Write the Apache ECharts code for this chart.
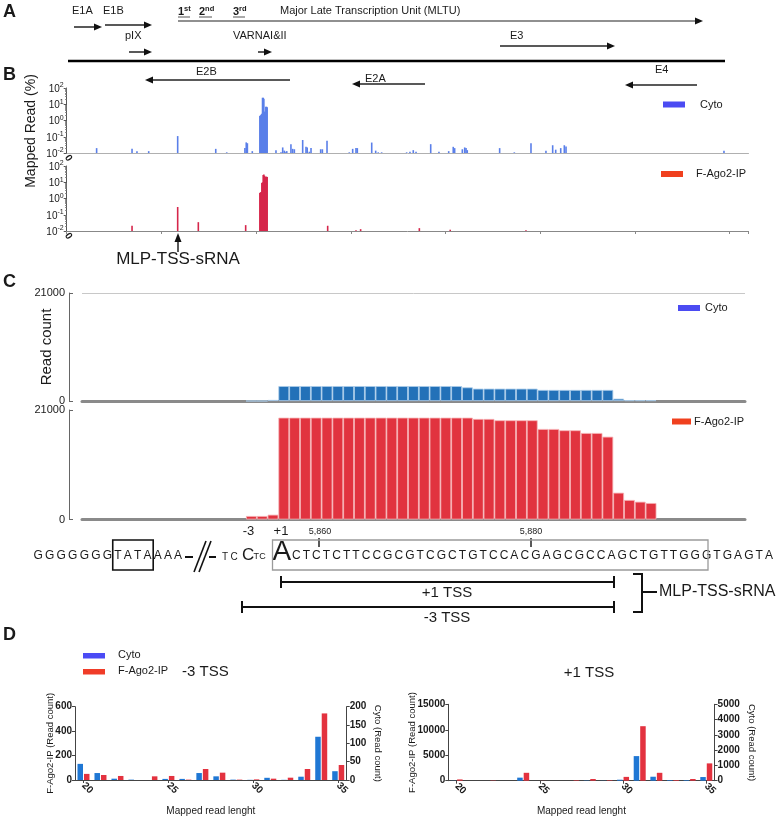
<!DOCTYPE html>
<html><head><meta charset="utf-8">
<script src="https://cdn.jsdelivr.net/npm/echarts@6/dist/echarts.min.js"></script>
<style>html,body{margin:0;padding:0;background:#fff}#c{width:784px;height:816px}</style>
</head><body><div id="c"></div><script>
// ---------- Panel B : genome-wide mapped reads (% , log scale) ----------
const cytoPos = [1580,3450,3710,4330,5860,7870,8450,9410,9480,9540,9800,
  10200,10235,10270,10305,10340,10375,10410,10445,10480,10515,10550,10585,
  11050,11315,11405,11490,11580,11620,11840,11930,12020,12460,12635,12700,12810,12900,
  13410,13500,13745,14920,15100,15275,15345,16105,16315,16450,16630,17950,18125,18300,18445,
  19220,19655,20170,20410,20485,20890,21015,21085,21150,22860,23635,24515,25305,25660,25820,
  26085,26275,26365,34705];
const cytoPct = [0.02,0.018,0.013,0.013,0.11,0.018,0.011,0.02,0.045,0.04,0.013,
  1.9,2.1,2.3,2.6,25,25,22,3.5,3.5,7,7,6.5,
  0.015,0.011,0.022,0.014,0.012,0.013,0.035,0.018,0.017,0.063,0.024,0.022,0.012,0.02,
  0.017,0.017,0.057,0.011,0.018,0.02,0.02,0.044,0.014,0.011,0.011,0.011,0.012,0.015,0.012,
  0.035,0.012,0.013,0.024,0.02,0.017,0.022,0.02,0.015,0.02,0.011,0.04,0.014,0.03,0.016,
  0.02,0.03,0.025,0.014];
const agoPos = [3450,5860,6950,9450,10200,10235,10270,10305,10340,10375,10410,10445,10480,10515,10550,10585,
  13780,15275,15520,18620,20250,24250];
const agoPct = [0.021,0.3,0.035,0.023,2.2,2.4,2.5,9,10,28,30,25,20,22,22,21,
  0.021,0.011,0.013,0.015,0.012,0.011];
const genomeTicks = [0,5000,10000,15000,20000,25000,30000,35000];

// ---------- Panel C : read count per nucleotide around MLP TSS ----------
const ntLabels = ['-3','-2','-1','+1','+2','+3','+4','+5','+6','+7','+8','+9','+10','+11','+12','+13','+14','+15','+16','+17',
  '+18','+19','+20','+21','+22','+23','+24','+25','+26','+27','+28','+29','+30','+31','+32','+33','+34','+35'];
const cytoCount = [0,0,200,2900,2900,2900,2900,2900,2900,2900,2900,2900,2900,2900,2900,2900,2900,2900,2900,2900,
  2650,2400,2400,2400,2400,2400,2400,2150,2150,2150,2150,2150,2150,2150,450,150,150,150];
const agoCount = [670,670,920,19530,19530,19530,19530,19530,19530,19530,19530,19530,19530,19530,19530,19530,19530,19530,19530,19530,
  19530,19280,19280,19030,19030,19030,19030,17360,17360,17110,17110,16590,16590,15880,5140,3740,3410,3160];

// ---------- Panel D : read length distribution ----------
const readLengths = ['20','21','22','23','24','25','26','27','28','29','30','31','32','33','34','35'];
const m3Cyto = [44,19,3.6,1,0,3,3,19,10,1,0.5,6,0.5,9,118,24];
const m3Ago  = [50,41,33,0,30,33,3,90,60,3,5,11,19,90,545,123];
const p1Cyto = [10,0,0,0,200,0,0,0,20,10,65,1610,260,40,40,240];
const p1Ago  = [250,0,60,0,1550,20,0,100,330,100,750,10700,1550,130,330,3400];

// ---------- helpers ----------
const F = '"Liberation Sans", Arial, sans-serif';
const TXT = '#1a1a1a';
const els = [];
function T(text, x, y, o) {
  o = o || {};
  const st = Object.assign({text: text, fontSize: 11, fontFamily: F, fill: TXT, align: 'left', verticalAlign: 'middle'}, o.style || {});
  st.textAlign = st.align; st.textVerticalAlign = st.verticalAlign;
  els.push({type: 'text', x: x, y: y, rotation: o.rot || 0, silent: true, z: 100, style: st});
}
function L(x1, y1, x2, y2, w, c) {
  els.push({type: 'line', silent: true, z: 100, shape: {x1: x1, y1: y1, x2: x2, y2: y2}, style: {stroke: c || '#222', lineWidth: w || 1.5}});
}
function R(x, y, w, h, fill, stroke, lw) {
  els.push({type: 'rect', silent: true, z: 100, shape: {x: x, y: y, width: w, height: h},
    style: {fill: fill || 'none', stroke: stroke || 'none', lineWidth: lw || 1}});
}
function arrow(x1, x2, y, w, hl, hh) {
  w = w || 1.5; hl = hl || 8; hh = hh || 3.5;
  const d = x2 > x1 ? 1 : -1;
  L(x1, y, x2 - d * hl * 0.7, y, w, '#222');
  els.push({type: 'polygon', silent: true, z: 100, shape: {points: [[x2, y], [x2 - d * hl, y - hh], [x2 - d * hl, y + hh]]}, style: {fill: '#111'}});
}
const ctx = document.createElement('canvas').getContext('2d');
function seq(str, x, y, size, spacing) {
  ctx.font = size + 'px "Liberation Sans"';
  const pos = [];
  for (const ch of str) {
    pos.push(x);
    T(ch, x, y, {style: {fontSize: size}});
    x += ctx.measureText(ch).width + spacing;
  }
  pos.push(x);
  return pos;
}
const supRich = {
  n: {fontSize: 11, fontWeight: 'bold', fontFamily: F, fill: TXT, color: TXT, verticalAlign: 'bottom'},
  s: {fontSize: 7.5, fontWeight: 'bold', fontFamily: F, fill: TXT, color: TXT, verticalAlign: 'bottom', padding: [0, 0, 5, 0]}
};

// ---------- Panel A ----------
const bold = {fontWeight: 'bold', fontSize: 18};
T('A', 3, 12, {style: bold});
T('E1A', 72, 11); T('E1B', 103, 11);
T('{n|1}{s|st}', 178, 11, {style: {rich: supRich}});
T('{n|2}{s|nd}', 199, 11, {style: {rich: supRich}});
T('{n|3}{s|rd}', 233, 11, {style: {rich: supRich}});
L(178, 17, 190, 17, 1, '#555'); L(199, 17, 212, 17, 1, '#555'); L(233, 17, 245, 17, 1, '#555');
T('Major Late Transcription Unit (MLTU)', 280, 11);
arrow(74, 102, 27); arrow(105, 152, 25);
arrow(178, 703, 21, 1.2);
T('pIX', 125, 36); arrow(129, 152, 52);
T('VARNAI&II', 233, 36); arrow(258, 272, 52);
T('E3', 510, 36); arrow(500, 615, 46);
L(68, 61, 725, 61, 2.6, '#000');
T('B', 3, 75, {style: bold});
T('E2B', 196, 72); arrow(290, 145, 80);
T('E2A', 365, 79); arrow(425, 352, 84);
T('E4', 655, 70); arrow(697, 625, 85);

// Panel B extras
T('Mapped Read (%)', 31, 131, {rot: Math.PI / 2, style: {fontSize: 14, align: 'center'}});
R(663, 101.5, 22, 6, '#4B4BF2'); T('Cyto', 700, 104.5);
R(661, 171, 22, 6, '#F0401E'); T('F-Ago2-IP', 696, 174);
L(178, 252, 178, 240, 1.5, '#222');
els.push({type: 'polygon', silent: true, z: 100, shape: {points: [[178, 233], [174.5, 242], [181.5, 242]]}, style: {fill: '#111'}});
T('MLP-TSS-sRNA', 178, 259, {style: {fontSize: 17, align: 'center'}});

// ---------- Panel C extras ----------
T('C', 3, 282, {style: bold});
R(678, 305, 22, 6, '#4B4BF2'); T('Cyto', 705, 308);
R(672, 418.5, 19, 6, '#F0401E'); T('F-Ago2-IP', 694, 421.5);
T('-3', 248.5, 531, {style: {fontSize: 13, align: 'center'}});
T('+1', 281, 531, {style: {fontSize: 13, align: 'center'}});
T('5,860', 320, 532, {style: {fontSize: 9, align: 'center'}});
T('5,880', 531, 532, {style: {fontSize: 9, align: 'center'}});
L(319, 538, 319, 547, 1.5, '#222'); L(531, 538, 531, 547, 1.5, '#222');
const sy = 556;
const gp = seq('GGGGGGGTATAAAA', 33.5, sy, 12, 2.2);
R(gp[7] - 1.5, 540, gp[11] - gp[7] + 1, 30, 'none', '#111', 1.6);
L(185, sy + 1, 193, sy + 1, 2, '#111');
L(194, 572, 206, 541, 1.6, '#111'); L(199, 572, 211, 541, 1.6, '#111');
L(209, sy + 1, 216, sy + 1, 2, '#111');
seq('TC', 222, sy + 1, 10, 2.5);
T('C', 242, sy - 1, {style: {fontSize: 17}});
seq('TC', 253.5, sy + 1, 9, 0.3);
T('A', 272.5, sy - 4, {style: {fontSize: 28}});
seq('CTCTCTTCCGCGTCGCTGTCCACGAGCGCCAGCTGTTGGGTGAGTA', 292, sy, 12, 2.05);
R(272.5, 540, 435.5, 30, 'none', '#9a9a9a', 1.3);
// TSS brackets
L(281, 582, 614, 582, 2, '#111'); L(281, 576, 281, 588, 2, '#111'); L(614, 576, 614, 588, 2, '#111');
T('+1 TSS', 447, 593, {style: {fontSize: 15, align: 'center'}});
L(242, 607, 614, 607, 2, '#111'); L(242, 601, 242, 613, 2, '#111'); L(614, 601, 614, 613, 2, '#111');
T('-3 TSS', 447, 618, {style: {fontSize: 15, align: 'center'}});
L(642, 574, 642, 612, 2, '#111'); L(633, 574, 643, 574, 2, '#111'); L(633, 612, 643, 612, 2, '#111');
L(642, 592, 657, 592, 2, '#111');
T('MLP-TSS-sRNA', 659, 592, {style: {fontSize: 16}});

// ---------- Panel D extras ----------
T('D', 3, 635, {style: bold});
R(83, 653, 22, 5.5, '#4B4BF5'); T('Cyto', 118, 655);
R(83, 669, 22, 5.5, '#F03C28'); T('F-Ago2-IP', 118, 671);
T('-3 TSS', 182, 672, {style: {fontSize: 15}});
T('+1 TSS', 589, 673, {style: {fontSize: 15, align: 'center'}});

// ---------- chart ----------
const chart = echarts.init(document.getElementById('c'), null, {renderer: 'canvas'});
function spikes(ai, pos, vals, color) {
  return {type: 'custom', xAxisIndex: ai, yAxisIndex: ai, silent: true,
    data: pos.map((p, i) => [p, vals[i]]),
    renderItem: function (params, api) {
      const top = api.coord([api.value(0), api.value(1)]);
      const base = api.coord([api.value(0), 0.01]);
      return {type: 'rect', shape: {x: top[0] - 0.8, y: top[1], width: 1.6, height: base[1] - top[1]}, style: {fill: color}};
    }};
}
function logY(gi) {
  return {gridIndex: gi, type: 'log', logBase: 10, min: 0.01, max: 100,
    axisLine: {show: true, onZero: false, lineStyle: {color: '#555', width: 1}},
    axisTick: {show: true, length: 3, lineStyle: {color: '#555'}},
    minorTick: {show: true, splitNumber: 9, length: 1.5, lineStyle: {color: '#777'}},
    splitLine: {show: false}, minorSplitLine: {show: false},
    axisLabel: {margin: 3, formatter: v => '{b|10}{s|' + Math.round(Math.log10(v)) + '}',
      rich: {b: {fontSize: 10, fontFamily: F, color: TXT, verticalAlign: 'bottom'},
             s: {fontSize: 7, fontFamily: F, color: TXT, verticalAlign: 'bottom', padding: [0, 0, 5, 0]}}}};
}
function genomeX(gi, ticks) {
  return {gridIndex: gi, type: 'value', min: 0, max: 36000, interval: 5000,
    axisLine: {show: true, onZero: false, lineStyle: {color: ticks ? '#888' : '#b0b0b0', width: 1}},
    axisTick: {show: ticks, length: 3, lineStyle: {color: '#888'}},
    splitLine: {show: false},
    axisLabel: {formatter: v => genomeTicks.indexOf(v) === 0 ? '0' : '', rotate: -55, fontSize: 10, fontWeight: 'bold', color: TXT, margin: 3}};
}
function posX(gi) {
  return {gridIndex: gi, type: 'value', min: -15.685, max: 45.7,
    axisLine: {show: true, onZero: false, lineStyle: {color: '#8a8a8a', width: 3}},
    axisTick: {show: false}, axisLabel: {show: false}, splitLine: {show: false}};
}
function countY(gi, split, name) {
  return {gridIndex: gi, type: 'value', min: 0, max: 21000, interval: 21000, offset: 13,
    axisLine: {show: true, onZero: false, lineStyle: {color: '#666', width: 1}},
    axisTick: {show: true, inside: true, length: 4, lineStyle: {color: '#666'}},
    axisLabel: {fontSize: 11, color: TXT, fontFamily: F, margin: 4, formatter: v => String(v)},
    splitLine: {show: split, lineStyle: {color: '#c8c8c8', width: 1}},
    name: name, nameLocation: 'middle', nameGap: 14.5, nameMoveOverlap: false,
    nameTextStyle: {fontSize: 15, color: TXT, fontFamily: F}};
}
const showLen = (i, v) => ['20', '25', '30', '35'].indexOf(v) >= 0;
function lenX(gi) {
  return {gridIndex: gi, type: 'category', data: readLengths, boundaryGap: true,
    axisLine: {show: true, onZero: false, lineStyle: {color: '#444', width: 1}},
    axisTick: {show: true, interval: showLen, alignWithLabel: true, length: 3, lineStyle: {color: '#444'}},
    axisLabel: {interval: showLen, rotate: -45, fontSize: 10, fontWeight: 'bold', color: TXT, fontFamily: F, margin: 4},
    name: 'Mapped read lenght', nameLocation: 'middle', nameGap: 26, nameMoveOverlap: false,
    nameTextStyle: {fontSize: 10, color: TXT, fontFamily: F}};
}
function cntY(gi, max, step, pos, name, gap) {
  return {gridIndex: gi, type: 'value', min: 0, max: max, interval: step, position: pos,
    axisLine: {show: true, onZero: false, lineStyle: {color: '#444', width: 1}},
    axisTick: {show: true, length: 3, lineStyle: {color: '#444'}},
    axisLabel: {fontSize: 10, fontWeight: 'bold', color: TXT, fontFamily: F, margin: 3, formatter: v => String(v)},
    splitLine: {show: false},
    name: name, nameLocation: 'middle', nameGap: gap, nameRotate: pos === 'right' ? -90 : 90, nameMoveOverlap: false,
    nameTextStyle: {fontSize: 9.5, color: TXT, fontFamily: F}};
}
function dBar(xi, yi, data, color) {
  return {type: 'bar', xAxisIndex: xi, yAxisIndex: yi, data: data, barWidth: 5.5, barGap: '18%',
    itemStyle: {color: color}, silent: true};
}
const g = (left, top, width, height) => ({left: left, top: top, width: width, height: height, containLabel: false, outerBoundsMode: 'none'});
chart.setOption({
  animation: false,
  backgroundColor: '#fff',
  textStyle: {fontFamily: F},
  grid: [g(66.7, 88, 681.8, 65), g(66.7, 166, 681.8, 65), g(82, 293, 663, 108), g(82, 410, 663, 109.5),
         g(75, 706.7, 271.7, 73.3), g(448.3, 704.3, 266.3, 76.4)],
  xAxis: [genomeX(0, false), genomeX(1, true), posX(2), posX(3), lenX(4), lenX(5)],
  yAxis: [logY(0), logY(1), countY(2, true, 'Read count'), countY(3, false, ''),
          cntY(4, 600, 200, 'left', 'F-Ago2-IP (Read count)', 20), cntY(4, 200, 50, 'right', 'Cyto (Read count)', 26),
          cntY(5, 15000, 5000, 'left', 'F-Ago2-IP (Read count)', 31), cntY(5, 5000, 1000, 'right', 'Cyto (Read count)', 32)],
  series: [
    spikes(0, cytoPos, cytoPct, '#5A7FE9'),
    spikes(1, agoPos, agoPct, '#D6264B'),
    {type: 'bar', xAxisIndex: 2, yAxisIndex: 2, barWidth: 10.8, silent: true,
      data: cytoCount.map((v, i) => [i, v]), itemStyle: {color: '#2371B8', borderColor: '#A9CBEA', borderWidth: 0.8}},
    {type: 'bar', xAxisIndex: 3, yAxisIndex: 3, barWidth: 10.8, silent: true,
      data: agoCount.map((v, i) => [i, v]), itemStyle: {color: '#E1333F', borderColor: '#F6B3B5', borderWidth: 0.8}},
    dBar(4, 5, m3Cyto, '#1F77D4'), dBar(4, 4, m3Ago, '#E3323F'),
    dBar(5, 7, p1Cyto, '#1F77D4'), dBar(5, 6, p1Ago, '#E3323F')
  ],
  graphic: {elements: els}
});
</script></body></html>
